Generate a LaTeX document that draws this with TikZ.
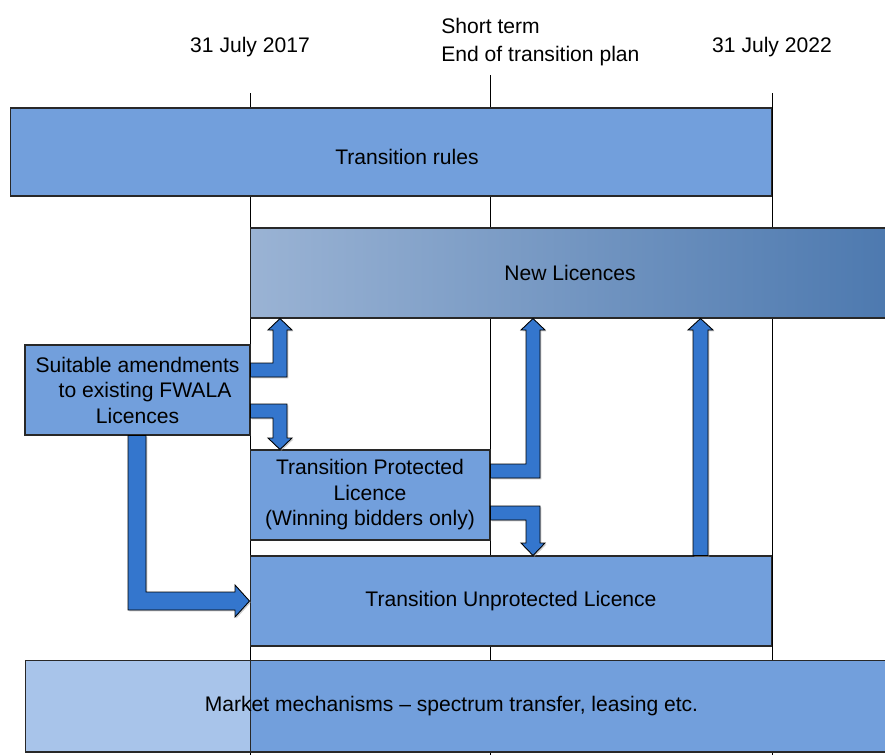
\documentclass[tikz,border=0pt]{standalone}
\usepackage{fontspec}
\setmainfont{Liberation Sans}
\usetikzlibrary{shadows}

\definecolor{boxblue}{RGB}{114,159,220}
\definecolor{arrowblue}{RGB}{52,118,205}
\definecolor{paleblue}{RGB}{168,196,234}
\definecolor{newleft}{RGB}{154,179,212}
\definecolor{newright}{RGB}{77,121,175}
\definecolor{edgegray}{RGB}{40,40,40}

\tikzset{
  box/.style={draw=edgegray, line width=0.6pt, fill=boxblue, inner sep=0pt,
    align=center, font=\fontsize{12}{14.5}\selectfont},
  tick/.style={draw=black, line width=0.5pt},
  blockarrow/.style={draw=black, line width=0.5pt, fill=arrowblue,
    drop shadow={shadow xshift=0.8pt, shadow yshift=-0.8pt, fill=black!40}},
  datelabel/.style={font=\fontsize{12}{16}\selectfont, inner sep=0pt},
}

\begin{document}
\begin{tikzpicture}[x=0.02cm, y=-0.02cm]
    \useasboundingbox (0,0) rectangle (885,755);

    % time line
    \draw[tick] (250,93) -- (250,755);
    \draw[tick] (490,75) -- (490,755);
    \draw[tick] (772,93) -- (772,755);

    \node[datelabel] (d2017) at (250,47) {31 July 2017};
    \node[datelabel, anchor=west, align=left] (shortterm) at (441,42) {Short term\\End of transition plan};
    \node[datelabel] (d2022) at (772,47) {31 July 2022};

    % boxes
    \node[box, minimum width=15.24cm, minimum height=1.76cm] (rules) at (391,152) {};
    \node[font=\fontsize{12}{14.5}\selectfont] (ruleslbl) at (407,157) {Transition rules};
    \node[box, minimum width=12.8cm, minimum height=1.8cm, left color=newleft, right color=newright] (newl) at (570,273) {New Licences};
    \node[box, minimum width=4.5cm, minimum height=1.8cm] (amend) at (137.5,390) {Suitable amendments\\\hspace*{0.3cm}to existing FWALA\\Licences};
    \node[box, minimum width=4.8cm, minimum height=1.8cm] (prot) at (370,495) {Transition Protected\\Licence\\(Winning bidders only)};
    \node[box, minimum width=10.44cm, minimum height=1.8cm] (unprot) at (511,601) {Transition Unprotected Licence};
    \node[box, minimum width=17.3cm, minimum height=1.84cm,
      path picture={
        \fill[paleblue] (path picture bounding box.north west) rectangle ([xshift=4.5cm]path picture bounding box.south west);
        \draw[edgegray, line width=0.6pt] ([xshift=4.5cm]path picture bounding box.north west) -- ([xshift=4.5cm]path picture bounding box.south west);
      }] (market) at (457.5,706) {\hspace*{-0.24cm}Market mechanisms -- spectrum transfer, leasing etc.};

    % block arrows
    \draw[blockarrow] (amend.east |- 0,363) -- (273,363) -- (273,330) -- (268,330) -- (280,0 |- newl.south) -- (292,330) -- (287,330) -- (287,377) -- (amend.east |- 0,377) -- cycle;
    \draw[blockarrow] (amend.east |- 0,404) -- (287,404) -- (287,438) -- (292,438) -- (280,0 |- prot.north) -- (268,438) -- (273,438) -- (273,418) -- (amend.east |- 0,418) -- cycle;
    \draw[blockarrow] (128,0 |- amend.south) -- (146,0 |- amend.south) -- (146,592) -- (235,592) -- (235,585) -- (unprot.west |- 0,601) -- (235,617) -- (235,610) -- (128,610) -- cycle;
    \draw[blockarrow] (prot.east |- 0,464) -- (526,464) -- (526,330) -- (521,330) -- (533,0 |- newl.south) -- (545,330) -- (540,330) -- (540,478) -- (prot.east |- 0,478) -- cycle;
    \draw[blockarrow] (prot.east |- 0,506) -- (540,506) -- (540,543) -- (545,543) -- (533,0 |- unprot.north) -- (521,543) -- (526,543) -- (526,520) -- (prot.east |- 0,520) -- cycle;
    \draw[blockarrow] (693,0 |- unprot.north) -- (693,330) -- (688,330) -- (700.5,0 |- newl.south) -- (713,330) -- (708,330) -- (708,0 |- unprot.north) -- cycle;
\end{tikzpicture}
\end{document}
